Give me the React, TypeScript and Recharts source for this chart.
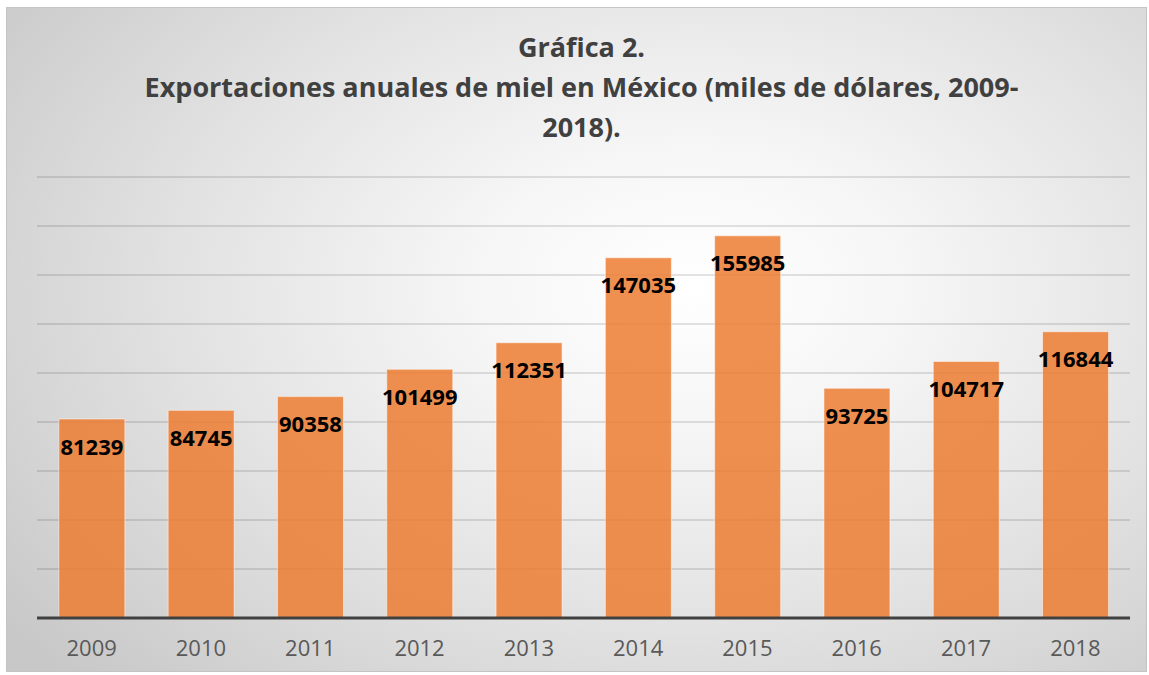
import { Bar, BarChart, CartesianGrid, LabelList, XAxis, YAxis } from 'recharts';

const YEARS = ['2009', '2010', '2011', '2012', '2013', '2014', '2015', '2016', '2017', '2018'];
const EXPORTS = [81239, 84745, 90358, 101499, 112351, 147035, 155985, 93725, 104717, 116844];
const Y_TICKS = [0, 20000, 40000, 60000, 80000, 100000, 120000, 140000, 160000, 180000];
const TITLE_LINES = [
    'Gráfica 2.',
    'Exportaciones anuales de miel en México (miles de dólares, 2009-',
    '2018).',
];

const data = YEARS.map((year, index) => ({
    year,
    value: EXPORTS[index],
}));

const FONT = '"Open Sans", "Noto Sans", sans-serif';

export default function App() {
    return (
        <div
            style={{
                position: 'absolute',
                left: 6,
                top: 7,
                width: 1141,
                height: 665,
                boxSizing: 'border-box',
                border: '1px solid #c4c4c4',
                background:
                    'radial-gradient(ellipse 75% 85% at 60% 42%, #ffffff 0%, #f6f6f6 25%, #e2e2e2 60%, #c8c8c8 100%)',
                fontFamily: FONT,
            }}
        >
            <div
                style={{
                    position: 'absolute',
                    left: 5,
                    top: 19,
                    width: '100%',
                    textAlign: 'center',
                    color: '#404040',
                    fontWeight: 700,
                    fontSize: 27,
                    lineHeight: '40px',
                }}
            >
                {TITLE_LINES.map((line) => (
                    <div key={line}>{line}</div>
                ))}
            </div>
            <BarChart
                width={1139}
                height={663}
                data={data}
                margin={{ top: 169, right: 16, left: 30, bottom: 13 }}
                barCategoryGap="20%"
                style={{ position: 'absolute', left: 0, top: 0 }}
            >
                <CartesianGrid vertical={false} stroke="rgba(0,0,0,0.22)" strokeWidth={1} />
                <YAxis hide domain={[0, 180000]} ticks={Y_TICKS} />
                <XAxis
                    dataKey="year"
                    height={40}
                    tickLine={false}
                    tickMargin={16}
                    axisLine={{ stroke: '#404040', strokeWidth: 3 }}
                    tick={{ fill: '#595959', fontSize: 22, fontFamily: FONT }}
                />
                <Bar
                    dataKey="value"
                    fill="#ED7D31"
                    fillOpacity={0.85}
                    stroke="rgba(255,255,255,0.5)"
                    strokeWidth={1}
                    isAnimationActive={false}
                >
                    <LabelList
                        dataKey="value"
                        position="insideTop"
                        offset={20}
                        fill="#000000"
                        fontSize={22}
                        fontWeight={700}
                        fontFamily={FONT}
                    />
                </Bar>
            </BarChart>
        </div>
    );
}
